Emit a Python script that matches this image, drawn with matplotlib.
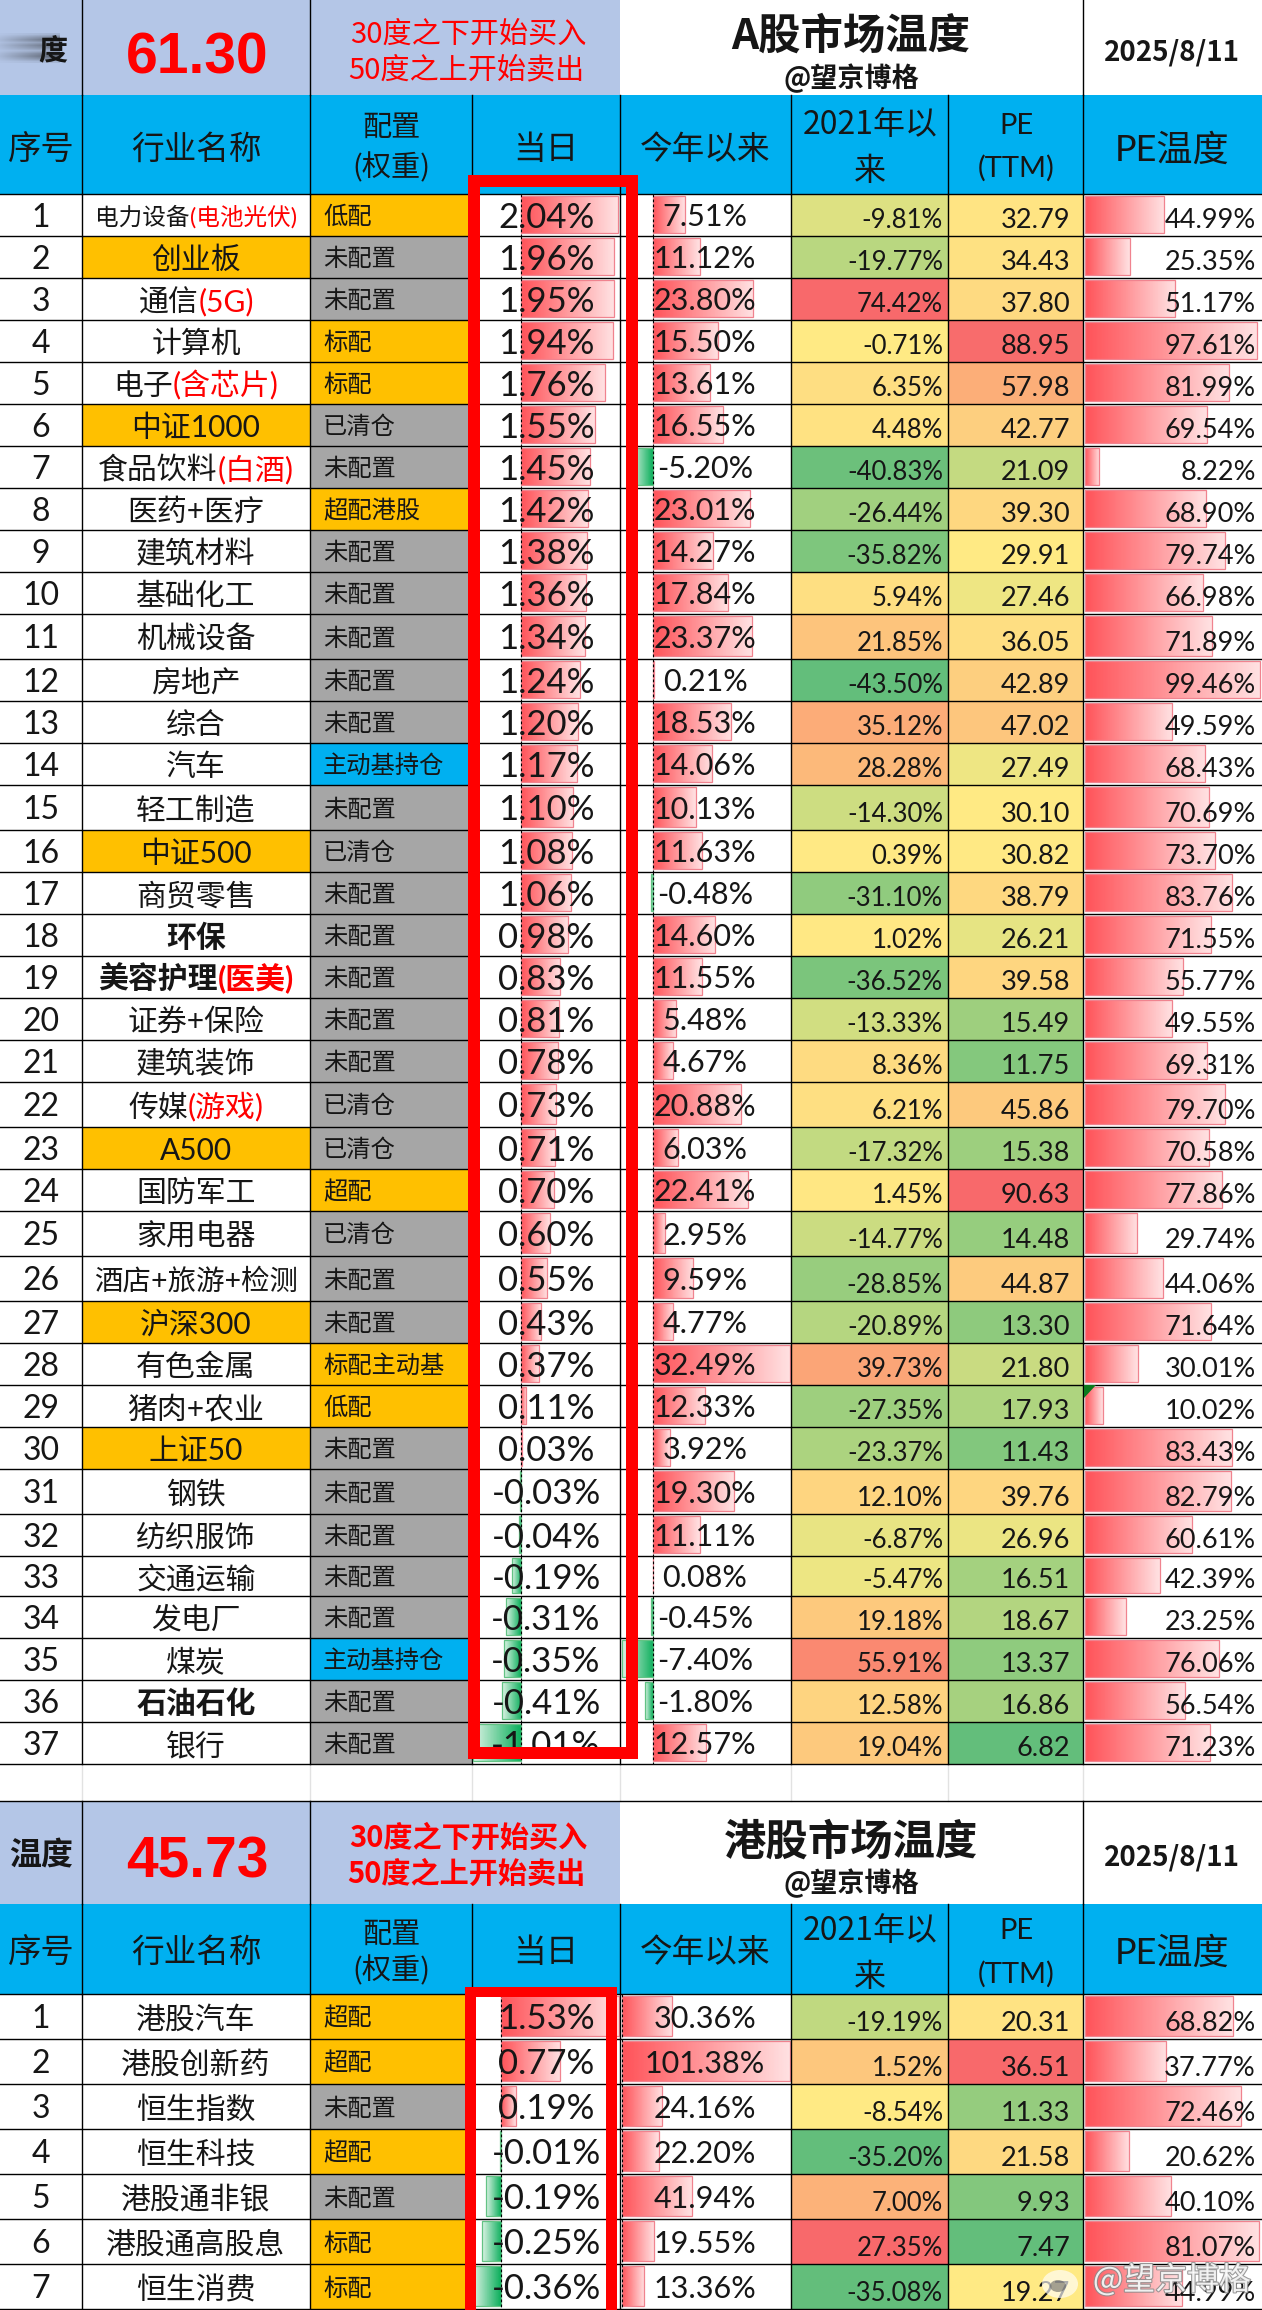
import numpy as np
import matplotlib
matplotlib.use('Agg')
import matplotlib.pyplot as plt
import matplotlib.patheffects as pe_fx
from matplotlib.colors import LinearSegmentedColormap, TwoSlopeNorm
from matplotlib.patches import Rectangle, Ellipse, Polygon

# A-share table
a_names = ['电力设备(电池光伏)', '创业板', '通信(5G)', '计算机', '电子(含芯片)', '中证1000', '食品饮料(白酒)', '医药+医疗',
           '建筑材料', '基础化工', '机械设备', '房地产', '综合', '汽车', '轻工制造', '中证500', '商贸零售', '环保',
           '美容护理(医美)', '证券+保险', '建筑装饰', '传媒(游戏)', 'A500', '国防军工', '家用电器', '酒店+旅游+检测',
           '沪深300', '有色金属', '猪肉+农业', '上证50', '钢铁', '纺织服饰', '交通运输', '发电厂', '煤炭', '石油石化', '银行']
a_config = ['低配', '未配置', '未配置', '标配', '标配', '已清仓', '未配置', '超配港股', '未配置', '未配置', '未配置', '未配置',
            '未配置', '主动基持仓', '未配置', '已清仓', '未配置', '未配置', '未配置', '未配置', '未配置', '已清仓', '已清仓',
            '超配', '已清仓', '未配置', '未配置', '标配主动基', '低配', '未配置', '未配置', '未配置', '未配置', '未配置',
            '主动基持仓', '未配置', '未配置']
a_today = [2.04, 1.96, 1.95, 1.94, 1.76, 1.55, 1.45, 1.42, 1.38, 1.36, 1.34, 1.24, 1.20, 1.17, 1.10, 1.08, 1.06, 0.98, 0.83,
           0.81, 0.78, 0.73, 0.71, 0.70, 0.60, 0.55, 0.43, 0.37, 0.11, 0.03, -0.03, -0.04, -0.19, -0.31, -0.35, -0.41, -1.01]
a_ytd = [7.51, 11.12, 23.80, 15.50, 13.61, 16.55, -5.20, 23.01, 14.27, 17.84, 23.37, 0.21, 18.53, 14.06, 10.13, 11.63, -0.48,
         14.60, 11.55, 5.48, 4.67, 20.88, 6.03, 22.41, 2.95, 9.59, 4.77, 32.49, 12.33, 3.92, 19.30, 11.11, 0.08, -0.45, -7.40,
         -1.80, 12.57]
a_since2021 = [-9.81, -19.77, 74.42, -0.71, 6.35, 4.48, -40.83, -26.44, -35.82, 5.94, 21.85, -43.50, 35.12, 28.28, -14.30, 0.39,
               -31.10, 1.02, -36.52, -13.33, 8.36, 6.21, -17.32, 1.45, -14.77, -28.85, -20.89, 39.73, -27.35, -23.37, 12.10,
               -6.87, -5.47, 19.18, 55.91, 12.58, 19.04]
a_pe = [32.79, 34.43, 37.80, 88.95, 57.98, 42.77, 21.09, 39.30, 29.91, 27.46, 36.05, 42.89, 47.02, 27.49, 30.10, 30.82, 38.79,
        26.21, 39.58, 15.49, 11.75, 45.86, 15.38, 90.63, 14.48, 44.87, 13.30, 21.80, 17.93, 11.43, 39.76, 26.96, 16.51, 18.67,
        13.37, 16.86, 6.82]
a_temp = [44.99, 25.35, 51.17, 97.61, 81.99, 69.54, 8.22, 68.90, 79.74, 66.98, 71.89, 99.46, 49.59, 68.43, 70.69, 73.70, 83.76,
          71.55, 55.77, 49.55, 69.31, 79.70, 70.58, 77.86, 29.74, 44.06, 71.64, 30.01, 10.02, 83.43, 82.79, 60.61, 42.39, 23.25,
          76.06, 56.54, 71.23]
a_highlight = ['创业板', '中证1000', '中证500', 'A500', '沪深300', '上证50']
a_bold = ['环保', '美容护理(医美)', '石油石化']

# Hong Kong table
hk_names = ['港股汽车', '港股创新药', '恒生指数', '恒生科技', '港股通非银', '港股通高股息', '恒生消费']
hk_config = ['超配', '超配', '未配置', '超配', '未配置', '标配', '标配']
hk_today = [1.53, 0.77, 0.19, -0.01, -0.19, -0.25, -0.36]
hk_ytd = [30.36, 101.38, 24.16, 22.20, 41.94, 19.55, 13.36]
hk_since2021 = [-19.19, 1.52, -8.54, -35.20, 7.00, 27.35, -35.08]
hk_pe = [20.31, 36.51, 11.33, 21.58, 9.93, 7.47, 19.27]
hk_temp = [68.82, 37.77, 72.46, 20.62, 40.10, 81.07, 44.99]

# layout, in pixels of the picture
col_x = [0, 82, 310, 472, 620, 791, 948, 1083, 1262]
a_rows = [194, 236, 278, 320, 362, 404, 446, 488, 530, 572, 614, 659, 701, 743, 785, 830, 872, 914, 956, 998, 1040, 1082,
          1127, 1169, 1211, 1256, 1301, 1343, 1385, 1427, 1469, 1514, 1556, 1596, 1638, 1680, 1722, 1764]
hk_rows = [1994, 2039, 2084, 2129, 2174, 2219, 2264, 2309]

BAND = '#B4C6E7'
HEAD = '#00B0F0'
ORANGE = '#FFC000'
GREY = '#A6A6A6'
RED = '#FF0000'
INK = '#161616'
LATIN = ['Lato', 'Noto Sans CJK SC']
CJK = ['Noto Sans CJK SC', 'DejaVu Sans']
config_color = {'低配': ORANGE, '标配': ORANGE, '超配': ORANGE, '超配港股': ORANGE, '标配主动基': ORANGE,
                '未配置': GREY, '已清仓': GREY, '主动基持仓': HEAD}

scale_cmap = LinearSegmentedColormap.from_list('scale', ['#63BE7B', '#FFEB84', '#F8696B'])
red_bar = LinearSegmentedColormap.from_list('redbar', ['#FF5359', '#FFE2E3'])
green_bar = LinearSegmentedColormap.from_list('greenbar', ['#0CAF5C', '#DDF3E5'])

fig = plt.figure(figsize=(12.62, 23.10), dpi=100)
ax = fig.add_axes([0, 0, 1, 1])
ax.set_xlim(0, 1262)
ax.set_ylim(2310, 0)
ax.axis('off')
ax.autoscale(False)


def box(x0, y0, x1, y1, color, z=1):
    ax.add_patch(Rectangle((x0, y0), x1 - x0, y1 - y0, facecolor=color, edgecolor='none', zorder=z))


def put(x, yc, s, size, ha='center', family=CJK, color=INK, weight='normal', z=5, alpha=None):
    # y is the optical middle of the line
    return ax.text(x, yc + 0.37 * size / 0.72, s, fontsize=size, ha=ha, va='baseline', family=family, color=color,
                   weight=weight, zorder=z, alpha=alpha)


def under(x, bottom, s, size, color=INK):
    # bottom aligned cell text, as the sheet does it
    return ax.text(x, bottom - 8, s, fontsize=size, ha='right', va='baseline', family=LATIN, color=color, zorder=5)


def data_bar(x_axis, px, top, bottom, value):
    x_end = x_axis + value * px
    cmap, edge = (red_bar, '#F0838F') if value >= 0 else (green_bar, '#63C384')
    grad = cmap(np.linspace(0, 1, 128))[None, :, :]
    ax.imshow(grad, extent=(x_axis, x_end, bottom - 3, top + 2), aspect='auto', interpolation='nearest', zorder=2)
    ax.add_patch(Rectangle((x_axis, top + 2), x_end - x_axis, bottom - top - 5, fill=False, edgecolor=edge, lw=0.9, zorder=2.5))


def name_text(s, xc, yc, size, weight):
    parts = [(s, INK)]
    if '(' in s:
        i = s.index('(')
        parts = [(s[:i], INK), (s[i:], RED)]
    rend = fig.canvas.get_renderer()
    texts = [put(0, yc, p, size, ha='left', family=LATIN, color=c, weight=weight) for p, c in parts]
    widths = [t.get_window_extent(rend).width for t in texts]
    x = xc - sum(widths) / 2
    for t, w in zip(texts, widths):
        t.set_x(x)
        x += w


def header(y0, y1, lines_cfg, lines_2021, lines_pe, mid):
    box(0, y0, 1262, y1, HEAD)
    put(41, mid, '序号', 24)
    put(196, mid, '行业名称', 23.5)
    put(391, lines_cfg[0], '配置', 21)
    put(391, lines_cfg[1], '(权重)', 21)
    put(546, mid, '当日', 23.5)
    put(705, mid, '今年以来', 23.5)
    put(870, lines_2021[0], '2021年以', 23)
    put(870, lines_2021[1], '来', 23)
    put(1016, lines_pe[0], 'PE', 21, family=LATIN)
    put(1016, lines_pe[1], '(TTM)', 21, family=LATIN)
    put(1172, mid, 'PE温度', 26, family=LATIN)
    for x in col_x[1:-1]:
        ax.plot([x, x], [y0, y1], color='k', lw=1.0, zorder=3)


def table(rows, names, config, today, ytd, since, pe, temp, today_axis, today_px, ytd_axis, ytd_px, temp_px,
          highlight=(), bold=(), sizes={}):
    since_norm = TwoSlopeNorm(vmin=min(since), vcenter=np.median(since), vmax=max(since))
    pe_norm = TwoSlopeNorm(vmin=min(pe), vcenter=np.median(pe), vmax=max(pe))
    for i, name in enumerate(names):
        top, bottom = rows[i], rows[i + 1]
        mid = (top + bottom) / 2
        put(41, mid, str(i + 1), 23, family=LATIN)
        if name in highlight:
            box(col_x[1], top, col_x[2], bottom, ORANGE)
        name_text(name, 196, mid + 1, sizes.get(name, 21.5), 'bold' if name in bold else 'normal')
        box(col_x[2], top, col_x[3], bottom, config_color[config[i]])
        put(323, mid, config[i], 17.5, ha='left')

        data_bar(today_axis, today_px, top, bottom, today[i])
        ax.plot([today_axis, today_axis], [top, bottom], color='k', lw=0.8, dashes=(2.5, 2), zorder=3)
        put(546, mid, f'{today[i]:.2f}%', 25, family=LATIN)

        data_bar(ytd_axis, ytd_px, top, bottom, ytd[i])
        ax.plot([ytd_axis, ytd_axis], [top, bottom], color='k', lw=0.8, dashes=(2.5, 2), zorder=3)
        put(705, mid, f'{ytd[i]:.2f}%', 22, family=LATIN)

        box(col_x[5], top, col_x[6], bottom, scale_cmap(since_norm(since[i])))
        under(943, bottom, f'{since[i]:.2f}%', 18.5)
        box(col_x[6], top, col_x[7], bottom, scale_cmap(pe_norm(pe[i])))
        under(1070, bottom, f'{pe[i]:.2f}', 19.5)
        data_bar(1085, temp_px, top, bottom, temp[i])
        under(1256, bottom, f'{temp[i]:.2f}%', 19.5)
    for y in rows:
        ax.plot([0, 1262], [y, y], color='k', lw=1.0, zorder=3)
    for x in col_x[1:-1]:
        ax.plot([x, x], [rows[0], rows[-1]], color='k', lw=1.0, zorder=1.5 if x == col_x[3] else 3)


# top band of the A-share table
box(0, 0, 620, 95, BAND)
for x in [82, 310, 1083]:
    ax.plot([x, x], [0, 95], color='k', lw=1.0, zorder=3)
put(197, 52, '61.30', 41, family=['Liberation Sans'], color=RED, weight='bold')
put(468, 32, '30度之下开始买入', 21, color=RED)
put(466, 68, '50度之上开始卖出', 21, color=RED)
put(851, 33, 'A股市场温度', 30.5, weight='bold')
put(851, 77, '@望京博格', 19.5, weight='bold')
put(1172, 50, '2025/8/11', 20, weight='bold')
# the blurred-out word in the first cell
t = put(53, 50, '度', 21, weight='bold')
t.set_clip_path(Rectangle((58, 0), 30, 95, transform=ax.transData))
streak_y = np.array([0.15, 0.55, 0.85, 0.45, 0.8, 0.6, 0.25, 0.7, 0.9, 0.6, 0.15])
streak = np.zeros((11, 60, 4))
streak[:, :, :3] = [0.3, 0.32, 0.36]
streak[:, :, 3] = streak_y[:, None] * np.linspace(0.15, 1, 60)[None, :]
ax.imshow(streak, extent=(0, 60, 63, 33), aspect='auto', interpolation='bilinear', zorder=4)

header(95, 194, (125, 166), (122, 168), (123, 166), 147)
table(a_rows, a_names, a_config, a_today, a_ytd, a_since2021, a_pe, a_temp, 521, 47.5, 653, 4.22, 1.76,
      highlight=a_highlight, bold=a_bold, sizes={'电力设备(电池光伏)': 17, '酒店+旅游+检测': 20.5})
ax.add_patch(Polygon([(1084, 1385), (1096, 1385), (1084, 1398)], facecolor='#0B7A1E', edgecolor='none', zorder=4))

# faint sheet lines in the gap between the tables
for x in col_x[1:-1]:
    ax.plot([x, x], [1765, 1801], color='#E2E2E2', lw=1.0, zorder=1)

# top band of the Hong Kong table
box(0, 1801, 620, 1904, BAND)
ax.plot([0, 1262], [1801, 1801], color='k', lw=1.0, zorder=3)
for x in [82, 310, 1083]:
    ax.plot([x, x], [1801, 1904], color='k', lw=1.0, zorder=3)
put(41, 1854, '温度', 23, weight='bold')
put(197, 1856, '45.73', 41, family=['Liberation Sans'], color=RED, weight='bold')
put(468, 1836, '30度之下开始买入', 21, color=RED, weight='bold')
put(466, 1872, '50度之上开始卖出', 21, color=RED, weight='bold')
put(851, 1839, '港股市场温度', 30.5, weight='bold')
put(851, 1882, '@望京博格', 19.5, weight='bold')
put(1172, 1855, '2025/8/11', 20, weight='bold')

header(1904, 1994, (1932, 1969), (1928, 1974), (1928, 1972), 1950)
table(hk_rows, hk_names, hk_config, hk_today, hk_ytd, hk_since2021, hk_pe, hk_temp, 501, 77, 622, 1.66, 2.15,
      sizes={'港股创新药': 21.5, '港股通高股息': 21.5})

# red hand-drawn frames
box(468, 175, 480, 1759, RED, z=6)
box(626, 175, 638, 1759, RED, z=6)
box(468, 175, 638, 187, RED, z=6)
box(468, 1747, 638, 1759, RED, z=6)
box(465, 1987, 476, 2310, RED, z=6)
box(606, 1987, 617, 2310, RED, z=6)
box(465, 1987, 617, 1997, RED, z=6)

# watermark, bottom right
ax.add_patch(Ellipse((1060, 2284), 36, 28, facecolor=(1, 1, 1, 0.65), edgecolor='none', zorder=7))
ax.add_patch(Ellipse((1058, 2286), 16, 12, facecolor=(0.35, 0.35, 0.35, 0.55), edgecolor='none', zorder=7))
mark = put(1172, 2278, '@望京博格', 23, color='white', alpha=0.85, z=7)
mark.set_path_effects([pe_fx.withStroke(linewidth=1.6, foreground=(0.55, 0.55, 0.55, 0.6))])

fig.savefig('out.png', dpi=100)
